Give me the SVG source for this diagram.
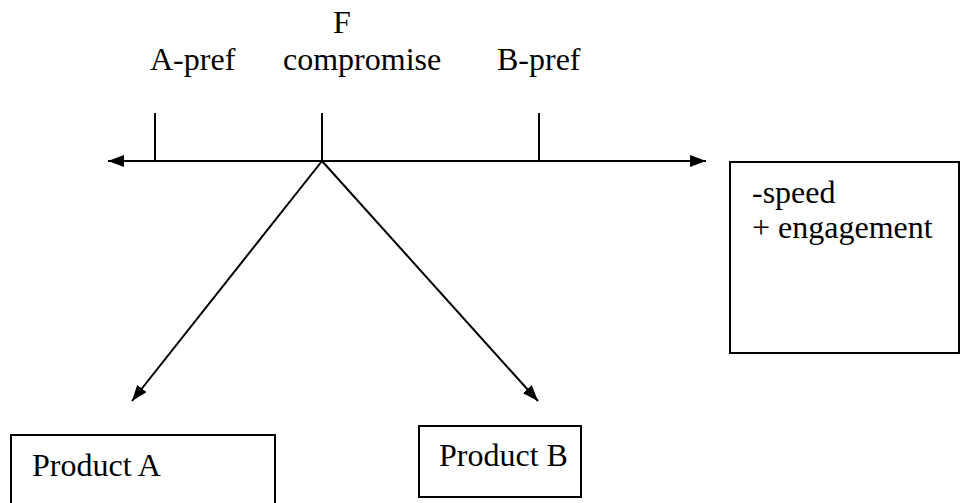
<svg xmlns="http://www.w3.org/2000/svg" width="961" height="503" viewBox="0 0 961 503">
<style>
.ln{stroke:#000;stroke-width:2;fill:none}
.box{stroke:#000;stroke-width:2;fill:#fff}
</style>
<defs>
<marker id="ah" viewBox="0 0 16 12" refX="16" refY="6" markerWidth="16" markerHeight="12" markerUnits="userSpaceOnUse" orient="auto">
<path d="M0,0 L16,6 L0,12 Z" fill="#000"/>
</marker>
</defs>
<g font-family="Liberation Serif, Times New Roman, DejaVu Serif, serif" font-size="32" fill="#000">
<g id="labels">
<text x="333" y="33">F</text>
<text x="150" y="70">A-pref</text>
<text x="283" y="70">compromise</text>
<text x="497" y="70">B-pref</text>
</g>
<g id="connectors">
<line class="ln" x1="322" y1="161" x2="108" y2="161" marker-end="url(#ah)"/>
<line class="ln" x1="322" y1="161" x2="706" y2="161" marker-end="url(#ah)"/>
<line class="ln" x1="155" y1="113" x2="155" y2="161"/>
<line class="ln" x1="322" y1="113" x2="322" y2="161"/>
<line class="ln" x1="539" y1="113" x2="539" y2="161"/>
<line class="ln" x1="322" y1="161" x2="132" y2="401" marker-end="url(#ah)"/>
<line class="ln" x1="322" y1="161" x2="538" y2="401" marker-end="url(#ah)"/>
</g>
<g id="note">
<rect class="box" x="730" y="162" width="229" height="191"/>
<text x="752" y="203">-speed</text>
<text x="752" y="238">+ engagement</text>
</g>
<g id="productA">
<rect class="box" x="11" y="435" width="264" height="80"/>
<text x="32" y="476">Product A</text>
</g>
<g id="productB">
<rect class="box" x="419" y="426" width="162" height="71"/>
<text x="439" y="466">Product B</text>
</g>
</g>
</svg>
